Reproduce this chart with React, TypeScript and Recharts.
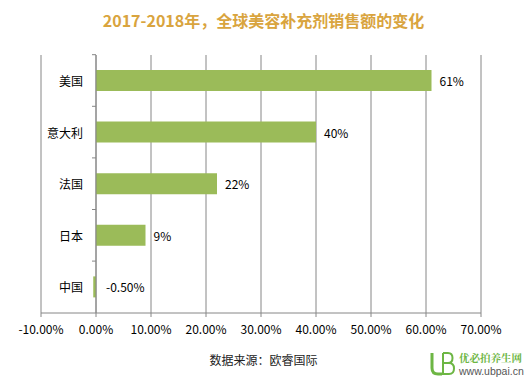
import React from 'react';
import { BarChart, Bar, XAxis, YAxis, CartesianGrid, ReferenceLine, LabelList } from 'recharts';

const categories = ['美国', '意大利', '法国', '日本', '中国'];
const growth = [61, 40, 22, 9, -0.5];
const growthLabels = ['61%', '40%', '22%', '9%', '-0.50%'];
const xTicks = [-10, 0, 10, 20, 30, 40, 50, 60, 70];

const data = categories.map((name, i) => ({ name, value: growth[i], label: growthLabels[i] }));

const W = 527;
const H = 379;
const MARGIN = { top: 55, right: 46, left: 41, bottom: 36 };
const X_AXIS_H = 30;
const BAND = (H - MARGIN.top - MARGIN.bottom - X_AXIS_H) / categories.length;
const FONT = '"Noto Sans CJK SC", "Microsoft YaHei", sans-serif';
const AXIS_GRAY = '#868686';
const LOGO_GREEN = '#6DB644';

// draws category name left of the zero line, the small tick marks and the value label
const BarLabels = (props: any) => {
    const { x, y, width, height, index } = props;
    const d = data[index];
    const zeroX = d.value < 0 && width > 0 ? x + width : x;
    const endX = d.value >= 0 ? x + width : zeroX;
    const cy = y + height / 2;
    return (
        <g>
            <line x1={zeroX - 4} x2={zeroX} y1={cy - BAND / 2} y2={cy - BAND / 2} stroke={AXIS_GRAY} />
            <text x={zeroX - 13} y={cy} textAnchor="end" dominantBaseline="central" fontSize={12} fill="#000" fontFamily={FONT}>
                {d.name}
            </text>
            <text x={endX + (d.value >= 0 ? 8 : 10)} y={cy} dominantBaseline="central" fontSize={12} fill="#000" fontFamily={FONT}>
                {d.label}
            </text>
        </g>
    );
};

export default function App() {
    return (
        <div style={{ position: 'absolute', left: 0, top: 0, width: W, height: H, background: '#fff', fontFamily: FONT }}>
            <div style={{ position: 'absolute', top: 8, left: 0, width: W, textAlign: 'center', fontSize: 16, fontWeight: 'bold', color: '#D9A43E' }}>
                2017-2018年，全球美容补充剂销售额的变化
            </div>
            <BarChart width={W} height={H} data={data} layout="vertical" margin={MARGIN} barSize={21}>
                <CartesianGrid horizontal={false} stroke={AXIS_GRAY} />
                <XAxis
                    type="number"
                    domain={[-10, 70]}
                    ticks={xTicks}
                    height={X_AXIS_H}
                    tickFormatter={(v: number) => `${v.toFixed(2)}%`}
                    stroke={AXIS_GRAY}
                    tickSize={4}
                    tickMargin={8}
                    tick={{ fill: '#000', fontSize: 12, fontFamily: FONT }}
                    interval={0}
                />
                <YAxis type="category" dataKey="name" hide width={0} />
                <ReferenceLine x={0} stroke={AXIS_GRAY} />
                <Bar dataKey="value" fill="#9BBB59" isAnimationActive={false}>
                    <LabelList dataKey="value" content={BarLabels} />
                </Bar>
            </BarChart>
            <div style={{ position: 'absolute', top: 351, left: 0, width: W, textAlign: 'center', fontSize: 12, color: '#222' }}>
                数据来源：欧睿国际
            </div>
            {/* watermark */}
            <svg style={{ position: 'absolute', left: 428, top: 350 }} width={30} height={28}>
                <path d="M4 3 V18 Q4 24 10 24 H14" fill="none" stroke={LOGO_GREEN} strokeWidth={3} />
                <path d="M15 3 V24 H21 Q26 24 26 18.5 Q26 13 21 13 H15 M15 3 H20 Q24.5 3 24.5 8 Q24.5 13 20 13" fill="none" stroke={LOGO_GREEN} strokeWidth={2} />
            </svg>
            <div style={{ position: 'absolute', left: 459, top: 351, fontSize: 10.5, fontWeight: 'bold', color: LOGO_GREEN, lineHeight: '13px', fontFamily: '"Noto Serif CJK SC", "Noto Sans CJK SC", serif' }}>
                优必拍养生网
            </div>
            <div style={{ position: 'absolute', left: 459, top: 365, fontSize: 10.5, color: '#555', lineHeight: '12px', fontFamily: 'Arial, "Liberation Sans", sans-serif' }}>
                www.ubpai.cn
            </div>
        </div>
    );
}
